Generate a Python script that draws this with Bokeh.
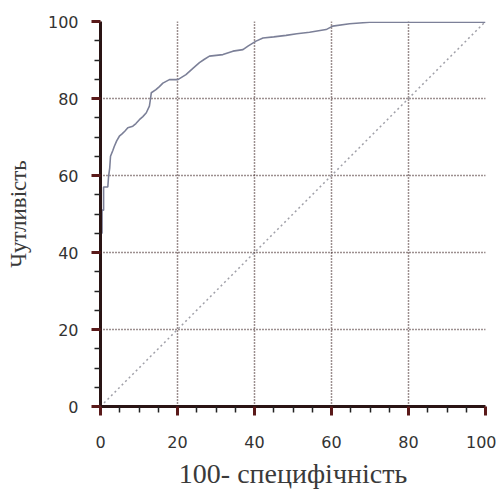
from bokeh.plotting import figure
from bokeh.models import Range1d, FixedTicker
from bokeh.embed import file_html
from bokeh.resources import INLINE

# ROC curve (100 - specificity, sensitivity)
fpr = [0, 0.4, 0.4, 0.8, 0.8, 1.9, 2.1, 2.4, 2.6, 3.2, 3.6, 4.2, 4.9, 5.6, 6.3, 7.1,
       8.4, 9.2, 10.1, 11.0, 11.9, 12.7, 13.0, 13.2, 14.4, 15.3, 16.2, 17.9, 20.1,
       22.2, 24.0, 25.7, 27.0, 28.3, 31.8, 34.4, 37.0, 38.3, 40.4, 42.2, 45.0, 48.2,
       51.0, 54.3, 58.6, 60.3, 64.7, 69.9, 100]
tpr = [45, 45, 51, 51, 57, 57, 59.8, 62, 65, 66.5, 67.6, 69, 70.2, 70.8, 71.5, 72.4,
       72.8, 73.5, 74.5, 75.3, 76.3, 78, 80, 81.5, 82.3, 83.1, 84, 84.9, 84.9,
       86.2, 87.8, 89.3, 90.2, 91, 91.4, 92.3, 92.7, 93.6, 94.9, 95.7, 96, 96.4,
       96.8, 97.2, 97.9, 98.8, 99.4, 99.8, 99.8]
diag_x = [0, 100]
diag_y = [0, 100]
major_ticks = [0, 20, 40, 60, 80, 100]
minor_ticks = [5, 10, 15, 25, 30, 35, 45, 50, 55, 65, 70, 75, 85, 90, 95]
grid_ticks = [20, 40, 60, 80]
x_title = "100- специфічність"
y_title = "Чутливість"

p = figure(width=496, height=493, output_backend="svg", toolbar_location=None,
           x_range=Range1d(0, 100), y_range=Range1d(0, 100),
           min_border_left=100, min_border_right=11, min_border_top=21, min_border_bottom=87)
p.outline_line_color = None
p.background_fill_color = "white"
p.border_fill_color = "white"

for g in (p.xgrid, p.ygrid):
    g.ticker = FixedTicker(ticks=grid_ticks)
    g.grid_line_color = "#3a2020"
    g.grid_line_dash = "1 2"
    g.grid_line_width = 1.5

p.line(diag_x, diag_y, line_color="#a0a0a8", line_width=1.5, line_dash="2 3")
p.line(fpr, tpr, line_color="#7c8098", line_width=1.6)

for ax in (p.xaxis[0], p.yaxis[0]):
    ax.ticker = FixedTicker(ticks=major_ticks, minor_ticks=minor_ticks)
    ax.axis_line_color = "#2a1414"
    ax.axis_line_width = 3
    ax.major_tick_line_color = "#5a1a1a"
    ax.major_tick_line_width = 3
    ax.major_tick_in = 0
    ax.major_tick_out = 9
    ax.minor_tick_line_color = "#222222"
    ax.minor_tick_line_width = 1.5
    ax.minor_tick_in = 0
    ax.minor_tick_out = 6
    ax.major_label_text_font = "DejaVu Sans"
    ax.major_label_text_font_size = "16px"
    ax.major_label_text_color = "#333333"
    ax.axis_label_text_font = "Liberation Serif"
    ax.axis_label_text_font_style = "normal"
    ax.axis_label_text_color = "#3a3a3a"

p.xaxis.axis_label = x_title
p.yaxis.axis_label = y_title
p.xaxis.axis_label_text_font_size = "28px"
p.yaxis.axis_label_text_font_size = "23px"
p.xaxis.major_label_standoff = 20
p.yaxis.major_label_standoff = 13
p.xaxis.axis_label_standoff = 7
p.yaxis.axis_label_standoff = 14

open("out.html", "w").write(file_html(p, INLINE))
